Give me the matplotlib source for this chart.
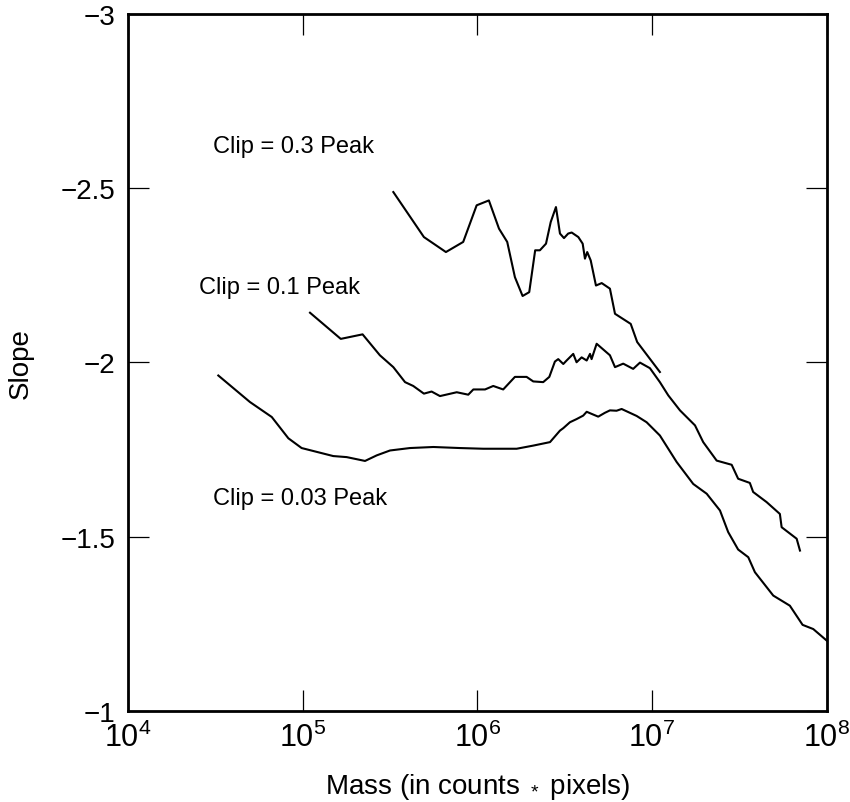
import numpy as np
import matplotlib
matplotlib.use('Agg')
import matplotlib.pyplot as plt
from matplotlib import font_manager
from matplotlib.ticker import FixedLocator, FixedFormatter

# log10(mass) and slope
clip03_logm = [5.519, 5.694, 5.820, 5.919, 5.996, 6.066, 6.124, 6.171, 6.215, 6.259,
               6.297, 6.331, 6.358, 6.393, 6.420, 6.450, 6.473, 6.496, 6.520, 6.540,
               6.578, 6.603, 6.616, 6.629, 6.649, 6.679, 6.712, 6.759, 6.788, 6.878,
               6.915, 7.045]
clip03_slope = [-2.488, -2.359, -2.316, -2.345, -2.450, -2.464, -2.383, -2.345, -2.244, -2.190,
                -2.201, -2.321, -2.321, -2.340, -2.402, -2.445, -2.369, -2.356, -2.369, -2.372,
                -2.359, -2.340, -2.297, -2.316, -2.292, -2.220, -2.227, -2.211, -2.139, -2.110,
                -2.058, -1.972]

clip01_logm = [5.042, 5.218, 5.343, 5.442, 5.519, 5.586, 5.633, 5.694, 5.738, 5.786,
               5.882, 5.948, 5.977, 6.044, 6.091, 6.148, 6.215, 6.282, 6.320, 6.377,
               6.412, 6.444, 6.463, 6.492, 6.511, 6.549, 6.568, 6.597, 6.626, 6.645,
               6.654, 6.673, 6.683, 6.759, 6.788, 6.835, 6.892,
               6.931, 6.988, 7.045, 7.093, 7.160, 7.246, 7.293, 7.370, 7.456, 7.493,
               7.560, 7.579, 7.656, 7.732, 7.742, 7.828, 7.847]
clip01_slope = [-2.142, -2.067, -2.080, -2.020, -1.986, -1.943, -1.932, -1.910, -1.916, -1.903,
                -1.914, -1.907, -1.922, -1.922, -1.932, -1.922, -1.958, -1.958, -1.945, -1.943,
                -1.958, -2.002, -2.009, -1.995, -2.005, -2.024, -2.000, -2.014, -2.005, -2.024,
                -2.009, -2.038, -2.053, -2.020, -1.986, -1.996, -1.981,
                -1.999, -1.983, -1.943, -1.905, -1.862, -1.819, -1.771, -1.718, -1.706, -1.666,
                -1.654, -1.628, -1.599, -1.565, -1.527, -1.494, -1.460]

clip003_logm = [4.517, 4.698, 4.823, 4.918, 4.994, 5.175, 5.252, 5.357, 5.424, 5.500,
                5.614, 5.748, 5.900, 6.034, 6.225, 6.320, 6.416, 6.473, 6.492, 6.530,
                6.568, 6.606, 6.626, 6.654, 6.692, 6.730, 6.759, 6.797, 6.826,
                6.912, 6.969, 7.045, 7.141, 7.236, 7.313, 7.389,
                7.436, 7.493, 7.551, 7.589, 7.694, 7.789, 7.862, 7.923, 8.0]
clip003_slope = [-1.962, -1.886, -1.843, -1.782, -1.754, -1.731, -1.728, -1.717, -1.733, -1.747,
                 -1.754, -1.757, -1.754, -1.752, -1.752, -1.761, -1.771, -1.804, -1.811, -1.828,
                 -1.837, -1.847, -1.858, -1.852, -1.844, -1.855, -1.862, -1.861, -1.866,
                 -1.846, -1.828, -1.790, -1.714, -1.651, -1.623, -1.575,
                 -1.513, -1.463, -1.441, -1.398, -1.331, -1.302, -1.247, -1.235, -1.202]

curve_labels = ['Clip = 0.3 Peak', 'Clip = 0.1 Peak', 'Clip = 0.03 Peak']
label_logm = [4.487, 4.408, 4.488]
label_slope = [-2.603, -2.199, -1.594]

xticks = [1e4, 1e5, 1e6, 1e7, 1e8]
xtick_labels = [r'$\mathrm{10^{4}}$', r'$\mathrm{10^{5}}$', r'$\mathrm{10^{6}}$',
                r'$\mathrm{10^{7}}$', r'$\mathrm{10^{8}}$']
yticks = [-3, -2.5, -2, -1.5, -1]
ytick_labels = ['\u22123', '\u22122.5', '\u22122', '\u22121.5', '\u22121']

installed = {f.name for f in font_manager.fontManager.ttflist}
narrow = 'Liberation Sans Narrow' if 'Liberation Sans Narrow' in installed else 'Liberation Sans'

plt.rcParams['font.family'] = ['Liberation Sans', 'DejaVu Sans']
plt.rcParams['mathtext.fontset'] = 'custom'
plt.rcParams['mathtext.rm'] = narrow
plt.rcParams['mathtext.it'] = narrow

fig = plt.figure(figsize=(8.5, 8.03), dpi=100)
ax = fig.add_axes([128 / 850, 1 - 712 / 803, 698.7 / 850, 697.5 / 803])

for logm, slope in [(clip03_logm, clip03_slope), (clip01_logm, clip01_slope),
                    (clip003_logm, clip003_slope)]:
    ax.plot(10 ** np.array(logm), slope, color='black', lw=1.5)

for text, lm, s in zip(curve_labels, label_logm, label_slope):
    ax.text(10 ** lm, s, text, fontsize=17, ha='left', va='baseline')

ax.set_xscale('log')
ax.set_xlim(1e4, 1e8)
ax.set_ylim(-1, -3)
ax.xaxis.set_major_locator(FixedLocator(xticks))
ax.xaxis.set_major_formatter(FixedFormatter(xtick_labels))
ax.xaxis.set_minor_locator(FixedLocator([]))
ax.set_yticks(yticks)
ax.set_yticklabels(ytick_labels)

ax.tick_params(which='major', direction='in', length=15, width=0.9,
               top=True, right=True, color='black')
ax.tick_params(axis='x', labelsize=22, pad=8)
ax.tick_params(axis='y', labelsize=20, pad=9)
for sp in ax.spines.values():
    sp.set_linewidth(2)

ax.set_xlabel(r'Mass (in counts $_*$ pixels)', fontsize=20, labelpad=13)
ax.set_ylabel('Slope', fontsize=20, labelpad=19)

fig.savefig('out.png', dpi=100)
